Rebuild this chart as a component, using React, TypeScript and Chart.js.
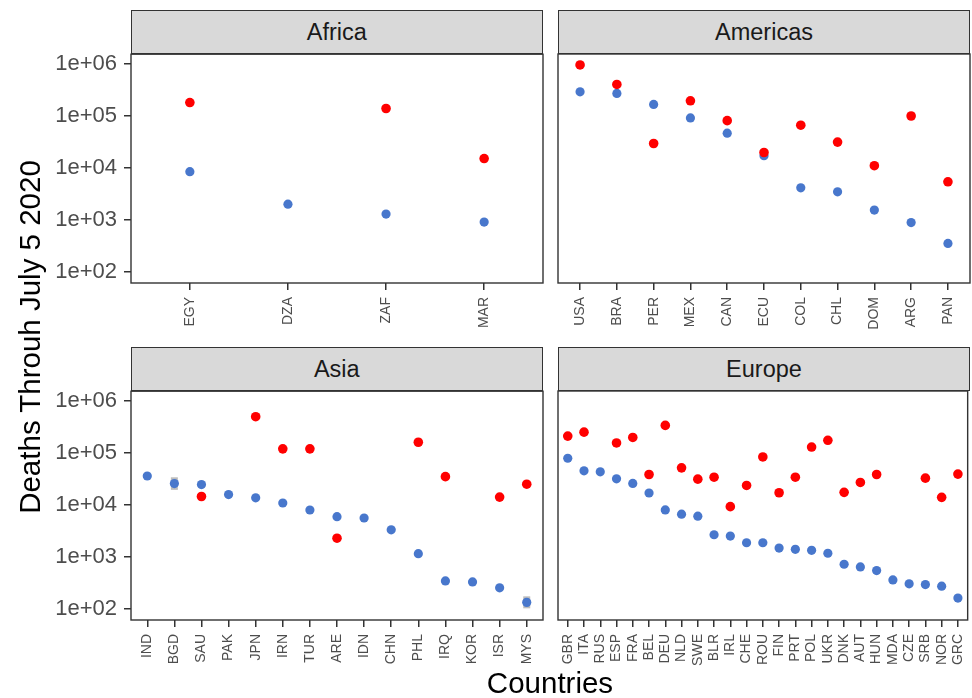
import React, { useEffect, useRef } from 'react';
import { Chart, registerables } from 'chart.js';

Chart.register(...registerables);

// ---------------- data ----------------
const africaCountries = ['EGY', 'DZA', 'ZAF', 'MAR'];
const africaEstimated = [178000, null, 137000, 15000];
const africaReported = [8400, 2000, 1290, 908];
const africaErrLow = [null, null, null, null];
const africaErrHigh = [null, null, null, null];

const americasCountries = ['USA', 'BRA', 'PER', 'MEX', 'CAN', 'ECU', 'COL', 'CHL', 'DOM', 'ARG', 'PAN'];
const americasEstimated = [929000, 393000, 29000, 191000, 79600, 19500, 65000, 30900, 10900, 97700, 5350];
const americasReported = [284000, 265000, 163000, 89600, 45800, 16900, 4100, 3440, 1540, 885, 352];
const americasErrLow = [null, null, null, null, null, null, null, null, null, null, null];
const americasErrHigh = [null, null, null, null, null, null, null, null, null, null, null];

const asiaCountries = ['IND', 'BGD', 'SAU', 'PAK', 'JPN', 'IRN', 'TUR', 'ARE', 'IDN', 'CHN', 'PHL', 'IRQ', 'KOR', 'ISR', 'MYS'];
const asiaEstimated = [null, null, 14400, null, 489000, 118000, 118000, 2280, null, null, 158000, 34600, null, 14000, 24800];
const asiaReported = [35600, 25500, 24400, 15700, 13600, 10800, 7930, 5900, 5570, 3300, 1150, 346, 331, 255, 134];
const asiaErrLow = [null, 19300, 21800, null, null, null, null, null, null, null, null, null, null, null, 103];
const asiaErrHigh = [null, 33600, 27200, null, null, null, null, null, null, null, null, null, null, null, 175];

const europeCountries = ['GBR', 'ITA', 'RUS', 'ESP', 'FRA', 'BEL', 'DEU', 'NLD', 'SWE', 'BLR', 'IRL', 'CHE', 'ROU', 'FIN', 'PRT', 'POL', 'UKR', 'DNK', 'AUT', 'HUN', 'MDA', 'CZE', 'SRB', 'NOR', 'GRC'];
const europeEstimated = [206000, 245000, null, 152000, 194000, 37800, 330000, 50700, 30800, 33600, 9160, 23300, 82000, 16900, 33600, 127000, 171000, 17200, 26600, 37800, null, null, 32200, 13800, 38500];
const europeReported = [77400, 44500, 42500, 31300, 25500, 16700, 7930, 6560, 6010, 2650, 2500, 1860, 1860, 1470, 1390, 1330, 1170, 720, 640, 546, 361, 303, 294, 274, 162];
const europeErrLow = [null, null, null, null, null, null, null, null, null, null, null, null, null, null, null, null, null, null, null, null, null, null, null, null, 145];
const europeErrHigh = [null, null, null, null, null, null, null, null, null, null, null, null, null, null, null, null, null, null, null, null, null, null, null, null, 182];

const yTickExponents = [2, 3, 4, 5, 6];
const yTitle = 'Deaths Throuh July 5 2020';
const xTitle = 'Countries';

// ---------------- style ----------------
const FONT = '"Liberation Sans", Arial, Helvetica, sans-serif';
const RED = '#ff0000';
const BLUE = '#4877cc';
const DARK = '#333333';
const PAD_TOP = 20;
const PAD_SIDE = 12;
const X_AXIS_H = 54;
const LEFT_CANVAS_X = 40;

type PanelProps = {
  title: string;
  countries: string[];
  estimated: (number | null)[];
  reported: (number | null)[];
  errLow: (number | null)[];
  errHigh: (number | null)[];
  left: number;
  right: number;
  top: number;
  bottom: number;
  showY: boolean;
};

function Panel(p: PanelProps) {
  const ref = useRef<HTMLCanvasElement | null>(null);
  const canvasLeft = p.showY ? LEFT_CANVAS_X : p.left - PAD_SIDE;
  const canvasTop = p.top - PAD_TOP;
  const canvasW = Math.round(p.right + PAD_SIDE - canvasLeft);
  const canvasH = Math.round(p.bottom - p.top + PAD_TOP + X_AXIS_H);
  const yW = p.showY ? p.left - LEFT_CANVAS_X : 0;

  useEffect(() => {
    if (!ref.current) return;
    const n = p.countries.length;
    const decor = {
      id: 'decor',
      beforeDatasetsDraw(chart: any) {
        const ctx = chart.ctx;
        const xs = chart.scales.x;
        const ys = chart.scales.y;
        ctx.save();
        ctx.fillStyle = '#bdbdbd';
        for (let i = 0; i < n; i++) {
          const lo = p.errLow[i];
          const hi = p.errHigh[i];
          if (lo == null || hi == null) continue;
          const x = xs.getPixelForValue(i);
          const y1 = ys.getPixelForValue(hi);
          const y2 = ys.getPixelForValue(lo);
          ctx.fillRect(x - 3.5, y1, 7, y2 - y1);
        }
        ctx.restore();
      },
      afterDraw(chart: any) {
        const { left, top, right, bottom } = chart.chartArea;
        const ctx = chart.ctx;
        ctx.save();
        ctx.strokeStyle = DARK;
        ctx.lineWidth = 1.4;
        ctx.strokeRect(left, top, right - left, bottom - top);
        ctx.restore();
      },
    };

    const chart = new Chart(ref.current, {
      type: 'scatter',
      data: {
        datasets: [
          {
            label: 'Estimated',
            data: p.estimated
              .map((v, i) => (v == null ? null : { x: i, y: v }))
              .filter((d) => d !== null) as any,
            backgroundColor: RED,
            borderWidth: 0,
            pointRadius: 4.8,
            pointHoverRadius: 4.8,
          },
          {
            label: 'Reported',
            data: p.reported
              .map((v, i) => (v == null ? null : { x: i, y: v }))
              .filter((d) => d !== null) as any,
            backgroundColor: BLUE,
            borderWidth: 0,
            pointRadius: 4.6,
            pointHoverRadius: 4.6,
          },
        ],
      },
      options: {
        responsive: false,
        animation: false,
        events: [],
        layout: {
          padding: {
            top: PAD_TOP,
            bottom: 0,
            left: p.showY ? 0 : PAD_SIDE,
            right: PAD_SIDE,
          },
        },
        plugins: {
          legend: { display: false },
          tooltip: { enabled: false },
          title: { display: false },
        },
        scales: {
          x: {
            type: 'linear',
            min: -0.6,
            max: n - 1 + 0.6,
            afterBuildTicks: (s: any) => {
              s.ticks = p.countries.map((_, i) => ({ value: i }));
            },
            afterFit: (s: any) => {
              s.height = X_AXIS_H;
            },
            ticks: {
              autoSkip: false,
              maxRotation: 90,
              minRotation: 90,
              padding: 7,
              color: '#4d4d4d',
              font: { family: FONT, size: 14 },
              callback: (v: any) => p.countries[Math.round(Number(v))] ?? '',
            },
            grid: {
              drawOnChartArea: false,
              drawTicks: true,
              tickLength: 7,
              color: DARK,
              lineWidth: 1.5,
            },
            border: { display: false },
          },
          y: {
            type: 'logarithmic',
            display: p.showY,
            min: Math.pow(10, 1.789),
            max: Math.pow(10, 6.178),
            afterBuildTicks: (s: any) => {
              s.ticks = yTickExponents.map((e) => ({ value: Math.pow(10, e) }));
            },
            afterFit: (s: any) => {
              s.width = yW;
            },
            ticks: {
              color: '#4d4d4d',
              font: { family: FONT, size: 22 },
              padding: 7,
              callback: (v: any) => {
                const e = Math.round(Math.log10(Number(v)));
                return '1e+' + String(e).padStart(2, '0');
              },
            },
            grid: {
              drawOnChartArea: false,
              drawTicks: true,
              tickLength: 7,
              color: DARK,
              lineWidth: 1.5,
            },
            border: { display: false },
          },
        },
      },
      plugins: [decor],
    } as any);
    return () => chart.destroy();
  }, []);

  return (
    <>
      <div
        style={{
          position: 'absolute',
          left: p.left,
          top: p.top - 44,
          width: p.right - p.left,
          height: 44,
          boxSizing: 'border-box',
          border: `1.4px solid ${DARK}`,
          background: '#d9d9d9',
          display: 'flex',
          alignItems: 'center',
          justifyContent: 'center',
          fontFamily: FONT,
          fontSize: 23.5,
          color: '#1a1a1a',
        }}
      >
        {p.title}
      </div>
      <canvas
        ref={ref}
        width={canvasW}
        height={canvasH}
        style={{
          position: 'absolute',
          left: canvasLeft,
          top: canvasTop,
          width: canvasW,
          height: canvasH,
        }}
      />
    </>
  );
}

export default function App() {
  const L1 = 131, R1 = 542.5, L2 = 558, R2 = 970;
  const T1 = 54, B1 = 283.3, T2 = 391, B2 = 619.5;
  return (
    <div
      style={{
        position: 'absolute',
        left: 0,
        top: 0,
        width: 972,
        height: 698,
        overflow: 'hidden',
        background: '#ffffff',
        fontFamily: FONT,
      }}
    >
      <Panel title="Africa" countries={africaCountries} estimated={africaEstimated} reported={africaReported}
        errLow={africaErrLow} errHigh={africaErrHigh} left={L1} right={R1} top={T1} bottom={B1} showY={true} />
      <Panel title="Americas" countries={americasCountries} estimated={americasEstimated} reported={americasReported}
        errLow={americasErrLow} errHigh={americasErrHigh} left={L2} right={R2} top={T1} bottom={B1} showY={false} />
      <Panel title="Asia" countries={asiaCountries} estimated={asiaEstimated} reported={asiaReported}
        errLow={asiaErrLow} errHigh={asiaErrHigh} left={L1} right={R1} top={T2} bottom={B2} showY={true} />
      <Panel title="Europe" countries={europeCountries} estimated={europeEstimated} reported={europeReported}
        errLow={europeErrLow} errHigh={europeErrHigh} left={L2} right={R2} top={T2} bottom={B2} showY={false} />
      <div
        style={{
          position: 'absolute',
          left: 30 - 250,
          top: 337 - 20,
          width: 500,
          height: 40,
          lineHeight: '40px',
          textAlign: 'center',
          transform: 'rotate(-90deg)',
          fontSize: 29.5,
          color: '#000',
          whiteSpace: 'nowrap',
        }}
      >
        {yTitle}
      </div>
      <div
        style={{
          position: 'absolute',
          left: 550 - 150,
          top: 683 - 20,
          width: 300,
          height: 40,
          lineHeight: '40px',
          textAlign: 'center',
          fontSize: 29.5,
          color: '#000',
          whiteSpace: 'nowrap',
        }}
      >
        {xTitle}
      </div>
    </div>
  );
}
